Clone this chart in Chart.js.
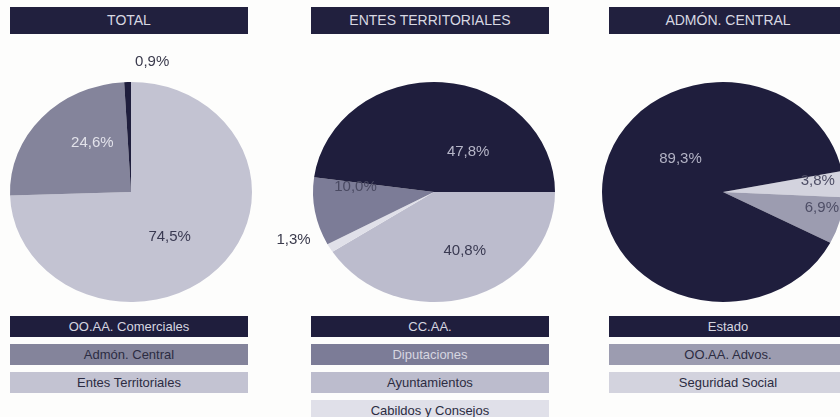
<!DOCTYPE html>
<html lang="es">
<head>
<meta charset="utf-8">
<title>Distribución por subsectores</title>
<script src="https://cdn.jsdelivr.net/npm/chart.js@4/dist/chart.umd.min.js"></script>
<style>
  html, body { margin: 0; padding: 0; }
  body {
    position: relative;
    width: 840px;
    height: 417px;
    overflow: hidden;
    background: #fdfdfc;
    font-family: 'Liberation Sans', Arial, sans-serif;
  }
  .col { position: absolute; top: 0; width: 238px; height: 417px; }
  .head {
    position: absolute; top: 7px; left: 0; width: 238px; height: 27px;
    line-height: 27px; background: #21203e; color: #d8d8e2;
    font-size: 14px; text-align: center;
  }
  .key {
    position: absolute; left: 0; width: 238px; height: 21px;
    line-height: 21px; font-size: 13px; text-align: center;
  }
  canvas.pie { position: absolute; top: 40px; }
</style>
</head>
<body>
<script>
//////////////////////
// data
//////////////////////

const titles = ['TOTAL', 'ENTES TERRITORIALES', 'ADMÓN. CENTRAL'];

// categories + values, in the order of the keys under each pie
const totalLabels = ['OO.AA. Comerciales', 'Admón. Central', 'Entes Territoriales'];
const totalValues = [0.9, 24.6, 74.5];

const entesLabels = ['CC.AA.', 'Diputaciones', 'Ayuntamientos', 'Cabildos y Consejos'];
const entesValues = [47.8, 10.0, 40.8, 1.3];

const centralLabels = ['Estado', 'OO.AA. Advos.', 'Seguridad Social'];
const centralValues = [89.3, 6.9, 3.8];

//////////////////////
// styles
//////////////////////

const navy = '#1f1e3d';
const stretchX = 1.1; // the printed pies are a bit wider than tall
const canvasW = 340;
const keyTop = 316;
const keyStep = 28;

// order = which category chart.js draws first (it goes clockwise)
// turn / reach = where the % label sits, relative to the slice middle
const pies = [
  {
    labels: totalLabels, values: totalValues,
    colors: [navy, '#84849b', '#c3c3d2'],
    textColors: ['#3a3a4c', '#e2e2ea', '#3a3a52'],
    order: [2, 1, 0], rotation: 0,
    turn: [10, 12, 8], reach: [1.2, 0.55, 0.52],
    colLeft: 10, center: 131
  },
  {
    labels: entesLabels, values: entesValues,
    colors: [navy, '#7c7c97', '#bcbccd', '#e0e0e9'],
    textColors: ['#b6b6c8', '#4a4a62', '#3a3a52', '#3a3a4c'],
    order: [2, 3, 1, 0], rotation: 90,
    turn: [34, 14, -9, 10], reach: [0.46, 0.65, 0.59, 1.24],
    colLeft: 311, center: 434
  },
  {
    labels: centralLabels, values: centralValues,
    colors: [navy, '#9c9cb0', '#d3d3de'],
    textColors: ['#b2b2c4', '#4e4e66', '#4e4e66'],
    order: [2, 1, 0], rotation: 79,
    turn: [32, -5, -3], reach: [0.46, 0.83, 0.79],
    colLeft: 609, center: 723
  }
];

//////////////////////
// functions
//////////////////////

function formatPct(v) {
  return v.toFixed(1).replace('.', ',') + '%';
}

function isDark(hex) {
  const r = parseInt(hex.substr(1, 2), 16);
  const g = parseInt(hex.substr(3, 2), 16);
  const b = parseInt(hex.substr(5, 2), 16);
  return (0.3 * r + 0.59 * g + 0.11 * b) < 130;
}

// squash the pie into an ellipse like the printed page
const stretchPlugin = {
  id: 'stretch',
  beforeDatasetsDraw(chart) {
    const arc = chart.getDatasetMeta(0).data[0];
    const ctx = chart.ctx;
    ctx.save();
    ctx.translate(arc.x, arc.y);
    ctx.scale(stretchX, 1);
    ctx.translate(-arc.x, -arc.y);
  },
  afterDatasetsDraw(chart) {
    chart.ctx.restore();
  }
};

function makeLabelPlugin(pie) {
  return {
    id: 'sliceLabels',
    afterDraw(chart) {
      const ctx = chart.ctx;
      const arcs = chart.getDatasetMeta(0).data;
      ctx.save();
      ctx.font = '15px "Liberation Sans", Arial, sans-serif';
      ctx.textAlign = 'center';
      ctx.textBaseline = 'middle';
      for (let j = 0; j < arcs.length; j++) {
        const k = pie.order[j];
        const p = arcs[j].getProps(['x', 'y', 'startAngle', 'endAngle', 'outerRadius'], true);
        const mid = (p.startAngle + p.endAngle) / 2 + pie.turn[k] * Math.PI / 180;
        const r = p.outerRadius * pie.reach[k];
        ctx.fillStyle = pie.textColors[k];
        ctx.fillText(formatPct(pie.values[k]), p.x + Math.cos(mid) * r * stretchX, p.y + Math.sin(mid) * r);
      }
      ctx.restore();
    }
  };
}

function renderColumn(pie, i) {
  const col = document.createElement('div');
  col.className = 'col';
  col.style.left = pie.colLeft + 'px';
  document.body.appendChild(col);

  const head = document.createElement('div');
  head.className = 'head';
  head.textContent = titles[i];
  col.appendChild(head);

  for (let k = 0; k < pie.labels.length; k++) {
    const key = document.createElement('div');
    key.className = 'key';
    key.style.top = (keyTop + k * keyStep) + 'px';
    key.style.background = pie.colors[k];
    key.style.color = isDark(pie.colors[k]) ? '#d6d6e0' : '#2c2c42';
    key.textContent = pie.labels[k];
    col.appendChild(key);
  }

  const canvas = document.createElement('canvas');
  canvas.className = 'pie';
  canvas.width = canvasW;
  canvas.height = 272;
  canvas.style.left = (pie.center - canvasW / 2) + 'px';
  document.body.appendChild(canvas);

  new Chart(canvas, {
    type: 'pie',
    data: {
      labels: pie.order.map(k => pie.labels[k]),
      datasets: [{
        data: pie.order.map(k => pie.values[k]),
        backgroundColor: pie.order.map(k => pie.colors[k]),
        borderWidth: 0
      }]
    },
    options: {
      responsive: false,
      animation: false,
      rotation: pie.rotation,
      layout: { padding: { top: 42, bottom: 10, left: 0, right: 0 } },
      plugins: {
        legend: { display: false },
        tooltip: { enabled: false }
      }
    },
    plugins: [stretchPlugin, makeLabelPlugin(pie)]
  });
}

function startApp() {
  for (let i = 0; i < pies.length; i++) {
    renderColumn(pies[i], i);
  }
}

startApp();
</script>
</body>
</html>
